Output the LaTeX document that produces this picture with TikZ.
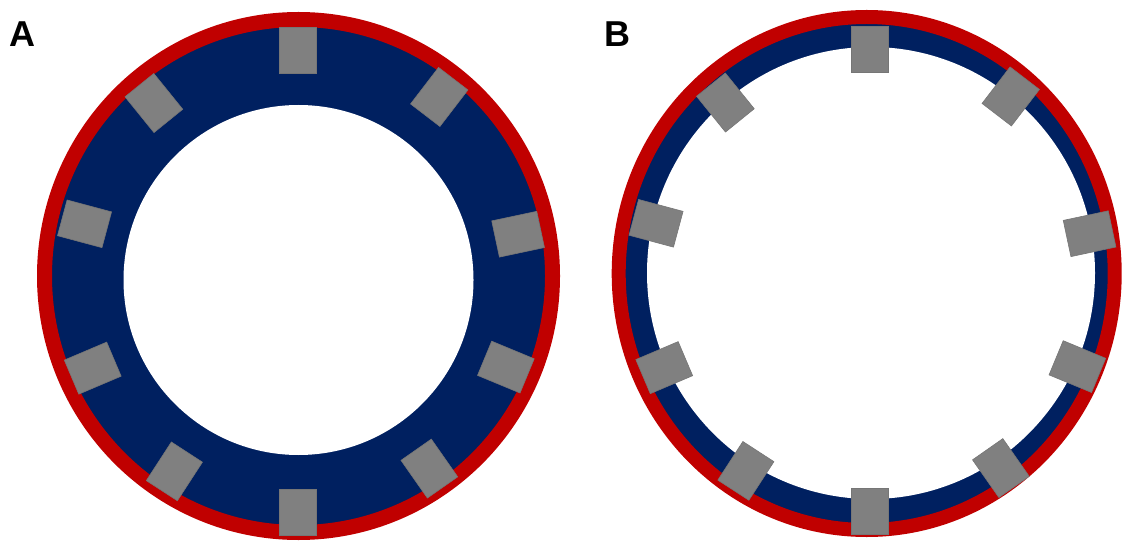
\documentclass[tikz,border=0pt]{standalone}
\usepackage{fontspec}
\setmainfont{Liberation Sans}
\usepackage{tikz}
\usetikzlibrary{positioning}
\definecolor{ringred}{HTML}{C00000}
\definecolor{navy}{HTML}{002060}
\definecolor{padgray}{HTML}{808080}
\tikzset{pad/.style={rectangle, fill=padgray, draw=padgray!92!black, line width=0.6pt,
    minimum width=46pt, minimum height=37pt, inner sep=0pt},
  lbl/.style={font=\fontsize{36}{36}\selectfont\bfseries, inner sep=0pt}}

\begin{document}
\begin{tikzpicture}[x=1pt, y=1pt]
	\useasboundingbox (0,0) rectangle (1126,544);
	\coordinate (cA) at (298,263);
	\coordinate (cB) at (869.5,263.5);

	% A: thick wall
	\draw[ringred, line width=15pt, fill=navy] (298.5,268) ellipse [x radius=254, y radius=256.5];
	\fill[white] (298.5,264) circle [radius=175];
	% B: thin wall
	\draw[ringred, line width=14pt, fill=navy] (866.7,270.5) ellipse [x radius=248, y radius=256.5];
	\fill[white] (871,271) ellipse [x radius=224, y radius=226];

	\foreach \a/\r [count=\i] in {90/231, 52.5/232, 12/225, -22.5/225, -55/229, -90/231, -123/227, -157/223, 165/221, 129/229}{
		\node[pad, rotate=\a] (padA\i) at ([shift={(\a:\r)}]cA) {};
		\node[pad, rotate=\a] (padB\i) at ([shift={(\a:\r)}]cB) {};
	}

	\node[lbl] (labA) at (22.5,510) {A};
	\node[lbl] (labB) at (617.5,510) {B};
\end{tikzpicture}
\end{document}
